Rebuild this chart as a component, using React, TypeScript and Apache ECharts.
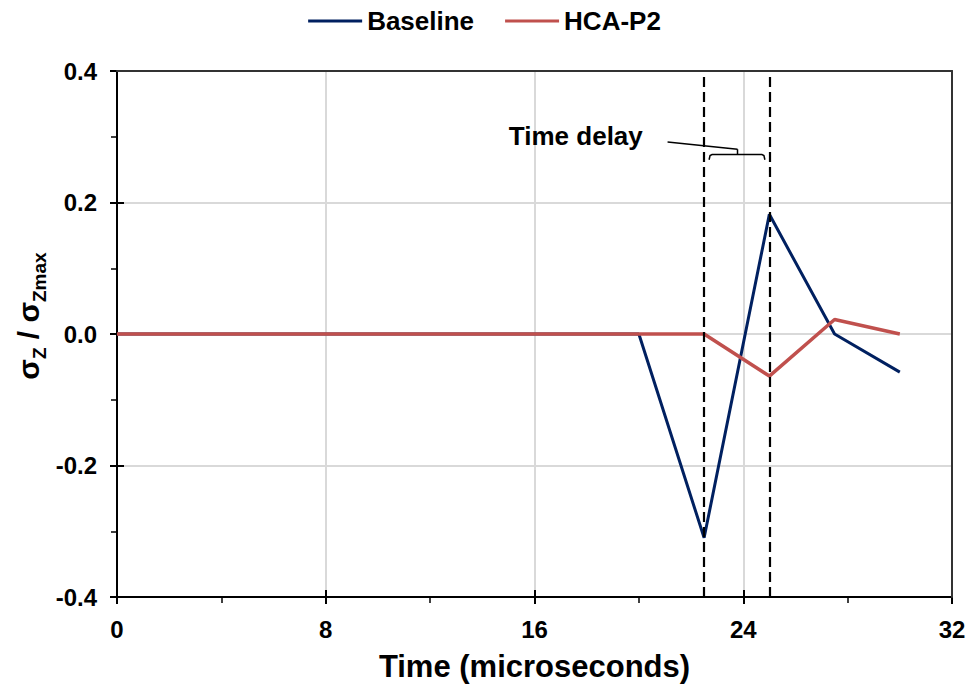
import React, { useEffect, useRef } from 'react';
import * as echarts from 'echarts';

// ---- data ----
const timeUs = [0, 20, 22.5, 25, 27.5, 30];
const baselineValues = [0, 0, -0.31, 0.182, 0, -0.058];
const hcaP2Values = [0, 0, 0, -0.064, 0.022, 0];
const seriesNames = ['Baseline', 'HCA-P2'];
const delayMarkers = [22.5, 25];
const xRange = [0, 32];
const xInterval = 8;
const yRange = [-0.4, 0.4];
const yInterval = 0.2;
const delayLabel = 'Time delay';

const FONT = '"Liberation Sans", Arial, sans-serif';
const NAVY = '#002060';
const RED = '#C0504D';

export default function App() {
  const ref = useRef<HTMLDivElement>(null);

  useEffect(() => {
    if (!ref.current) return;
    const chart = echarts.init(ref.current, undefined, { renderer: 'svg' });

    const tickStyle = { color: '#000', width: 2 };
    const hidden = {
      axisLine: { show: false, onZero: false },
      axisLabel: { show: false },
      splitLine: { show: false },
      minorTick: { show: false },
    };

    const option: any = {
      animation: false,
      backgroundColor: '#fff',
      grid: { left: 117, right: 17, top: 71, bottom: 91, containLabel: false },
      legend: {
        top: 3,
        left: 'center',
        icon: 'rect',
        itemWidth: 54,
        itemHeight: 3,
        itemGap: 31,
        data: seriesNames,
        textStyle: { fontFamily: FONT, fontWeight: 'bold', fontSize: 26, color: '#000' },
      },
      xAxis: [
        {
          type: 'value',
          position: 'bottom',
          min: xRange[0],
          max: xRange[1],
          interval: xInterval,
          axisLine: { show: true, onZero: false, lineStyle: { color: '#000', width: 2 } },
          axisTick: { show: true, inside: false, length: 7, lineStyle: tickStyle },
          minorTick: { show: true, splitNumber: 2, length: 6, lineStyle: { color: '#000', width: 1.5 } },
          axisLabel: { margin: 20, fontFamily: FONT, fontWeight: 'bold', fontSize: 24, color: '#000' },
          splitLine: { show: true, lineStyle: { color: '#d9d9d9', width: 2 } },
          name: 'Time (microseconds)',
          nameLocation: 'middle',
          nameGap: 54,
          nameTextStyle: { fontFamily: FONT, fontWeight: 'bold', fontSize: 31, color: '#000' },
        },
        {
          type: 'value',
          position: 'bottom',
          min: xRange[0],
          max: xRange[1],
          interval: xInterval,
          axisTick: { show: true, inside: true, length: 7, lineStyle: tickStyle },
          ...hidden,
        },
        {
          type: 'value',
          position: 'top',
          min: xRange[0],
          max: xRange[1],
          interval: xInterval,
          z: 5,
          axisLine: { show: true, onZero: false, lineStyle: { color: '#333', width: 2 } },
          axisTick: { show: false },
          axisLabel: { show: false },
          splitLine: { show: false },
        },
      ],
      yAxis: [
        {
          type: 'value',
          position: 'left',
          min: yRange[0],
          max: yRange[1],
          interval: yInterval,
          axisLine: { show: true, onZero: false, lineStyle: { color: '#000', width: 2 } },
          axisTick: { show: true, inside: false, length: 7, lineStyle: tickStyle },
          minorTick: { show: true, splitNumber: 2, length: 6, lineStyle: { color: '#000', width: 1.5 } },
          axisLabel: {
            margin: 20,
            fontFamily: FONT,
            fontWeight: 'bold',
            fontSize: 24,
            color: '#000',
            formatter: (v: number) => (Math.abs(v) < 1e-9 ? '0.0' : v.toFixed(1)),
          },
          splitLine: { show: true, lineStyle: { color: '#d9d9d9', width: 2 } },
        },
        {
          type: 'value',
          position: 'left',
          min: yRange[0],
          max: yRange[1],
          interval: yInterval,
          axisTick: { show: true, inside: true, length: 7, lineStyle: tickStyle },
          ...hidden,
        },
        {
          type: 'value',
          position: 'right',
          min: yRange[0],
          max: yRange[1],
          interval: yInterval,
          z: 5,
          axisLine: { show: true, onZero: false, lineStyle: { color: '#333', width: 2 } },
          axisTick: { show: false },
          axisLabel: { show: false },
          splitLine: { show: false },
        },
      ],
      series: [
        {
          name: seriesNames[0],
          type: 'line',
          xAxisIndex: 0,
          yAxisIndex: 0,
          symbol: 'none',
          color: NAVY,
          lineStyle: { color: NAVY, width: 3 },
          data: timeUs.map((t, i) => [t, baselineValues[i]]),
          markLine: {
            silent: true,
            symbol: ['none', 'none'],
            label: { show: false },
            lineStyle: { color: '#000', type: [10, 5], width: 2.2 },
            data: delayMarkers.map((x) => ({ xAxis: x })),
          },
        },
        {
          name: seriesNames[1],
          type: 'line',
          xAxisIndex: 0,
          yAxisIndex: 0,
          symbol: 'none',
          color: RED,
          lineStyle: { color: RED, width: 3.5 },
          data: timeUs.map((t, i) => [t, hcaP2Values[i]]),
        },
      ],
    };

    chart.setOption(option);

    const px = (x: number, y: number) =>
      chart.convertToPixel({ xAxisIndex: 0, yAxisIndex: 0 }, [x, y]) as number[];

    const textPos = px(20.15, 0.301);
    const leadA = px(21.1, 0.292);
    const leadB = px(23.78, 0.281);
    const brL = px(22.69, 0.273);
    const brR = px(24.83, 0.273);
    const brEndY = px(22.69, 0.265)[1];

    chart.setOption({
      graphic: [
        {
          type: 'text',
          x: textPos[0],
          y: textPos[1],
          style: {
            text: delayLabel,
            fontFamily: FONT,
            fontWeight: 'bold',
            fontSize: 26,
            fill: '#000',
            align: 'right',
            verticalAlign: 'middle',
          },
          z: 10,
        },
        {
          type: 'line',
          shape: { x1: leadA[0], y1: leadA[1], x2: leadB[0], y2: leadB[1] },
          style: { stroke: '#000', lineWidth: 1.5 },
          z: 10,
        },
        {
          type: 'line',
          shape: { x1: leadB[0], y1: leadB[1], x2: leadB[0], y2: brL[1] },
          style: { stroke: '#000', lineWidth: 1.5 },
          z: 10,
        },
        {
          type: 'polyline',
          shape: {
            points: [
              [brL[0], brEndY],
              [brL[0] + 1, brL[1] + 1],
              [brL[0] + 3, brL[1]],
              [brR[0] - 3, brR[1]],
              [brR[0] - 1, brR[1] + 1],
              [brR[0], brEndY],
            ],
          },
          style: { stroke: '#000', lineWidth: 1.5, fill: 'none' },
          z: 10,
        },
        {
          type: 'text',
          x: 31,
          y: 316,
          rotation: Math.PI / 2,
          style: {
            text: '{s|σ}{sub|Z}{s| / σ}{sub|Zmax}',
            align: 'center',
            verticalAlign: 'middle',
            fill: '#000',
            rich: {
              s: {
                fontFamily: FONT,
                fontWeight: 'bold',
                fontSize: 30,
                fill: '#000',
                verticalAlign: 'bottom',
                padding: [0, 0, 6, 0],
              },
              sub: {
                fontFamily: FONT,
                fontWeight: 'bold',
                fontSize: 19,
                fill: '#000',
                verticalAlign: 'bottom',
              },
            },
          },
          z: 10,
        },
      ],
    });

    return () => chart.dispose();
  }, []);

  return (
    <div
      ref={ref}
      style={{ position: 'fixed', left: 0, top: 0, width: 969, height: 688, background: '#fff' }}
    />
  );
}
